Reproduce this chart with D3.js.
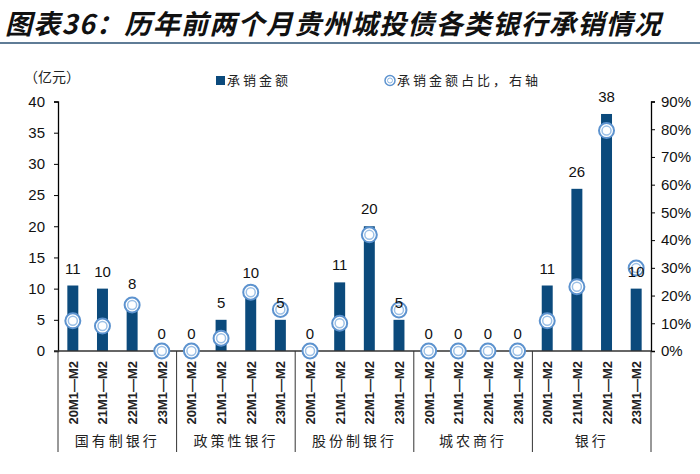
<!DOCTYPE html>
<html><head><meta charset="utf-8">
<script src="https://cdn.jsdelivr.net/npm/d3@7"></script>
<style>
body{margin:0;background:#fff;}
svg{display:block;}
</style></head>
<body>
<svg id="c" width="700" height="474"></svg>
<script>
const groups = ["国有制银行","政策性银行","股份制银行","城农商行","银行"];
const periods = ["20M1—M2","21M1—M2","22M1—M2","23M1—M2"];
const amounts = [10.5,10,8,0, 0,5,9.7,5, 0,11,20,5, 0,0,0,0, 10.5,26,38,10];
const shares = [10.9,9.0,16.6,0, 0,4.6,21.2,15.0, 0,10.0,41.9,14.8, 0,0,0,0, 10.9,23.2,79.5,29.9];
const leftTicks = [0,5,10,15,20,25,30,35,40];
const rightTicks = [0,10,20,30,40,50,60,70,80,90];

const svg = d3.select("#c");
const barColor = "#0b4a7c";
const ringColor = "#5d93cf";
const x0 = 58, x1 = 651, yTop = 101.5, yBot = 351;

const keys = [];
groups.forEach((g,gi)=>periods.forEach((p,pi)=>keys.push(gi+"|"+p)));
const data = keys.map((k,i)=>({key:k, period:periods[i%4], group:Math.floor(i/4), amt:amounts[i], pct:shares[i]}));

const x = d3.scaleBand().domain(keys).range([x0,x1]).paddingInner(0.63).paddingOuter(0.315);
const y = d3.scaleLinear().domain([0,40]).range([yBot,yTop]);
const y2 = d3.scaleLinear().domain([0,90]).range([yBot,yTop]);

// title
svg.append("text").attr("x",5).attr("y",34)
  .attr("font-family","'Noto Sans CJK SC'").attr("font-weight","bold").attr("font-style","italic")
  .attr("font-size",27).attr("letter-spacing",1.3).attr("fill","#111").text("图表36：历年前两个月贵州城投债各类银行承销情况");
svg.append("line").attr("x1",0).attr("x2",700).attr("y1",43).attr("y2",43)
  .attr("stroke","#5f7c96").attr("stroke-width",2);

// unit
svg.append("text").attr("x",24).attr("y",82).attr("font-family","'Noto Sans CJK SC'")
  .attr("font-size",14).attr("fill","#222").text("（亿元）");

// legend
svg.append("rect").attr("x",216).attr("y",76).attr("width",9).attr("height",9).attr("fill",barColor);
svg.append("text").attr("x",227).attr("y",85).attr("font-family","'Noto Sans CJK SC'")
  .attr("font-size",13).attr("fill","#222").attr("letter-spacing",3).text("承销金额");
svg.append("circle").attr("cx",390).attr("cy",80.5).attr("r",5).attr("fill","#fff").attr("stroke",ringColor).attr("stroke-width",1.5);
svg.append("circle").attr("cx",390).attr("cy",80.5).attr("r",2.5).attr("fill","#fff").attr("stroke","#8fb6e0").attr("stroke-width",1);
svg.append("text").attr("x",397).attr("y",85).attr("font-family","'Noto Sans CJK SC'")
  .attr("font-size",13).attr("fill","#222").attr("letter-spacing",3).text("承销金额占比，右轴");

// left axis
const la = svg.append("g").attr("transform",`translate(${x0},0)`)
  .call(d3.axisLeft(y).tickValues(leftTicks).tickSize(4).tickPadding(9).tickFormat(d3.format("d")));
la.select(".domain").attr("stroke","#000").attr("stroke-width",1.3);
la.selectAll(".tick line").attr("stroke","#000");
la.selectAll("text").attr("font-family","Arial, 'Liberation Sans'").attr("font-size",15).attr("fill","#111");

// right axis
const ra = svg.append("g").attr("transform",`translate(${x1},0)`)
  .call(d3.axisRight(y2).tickValues(rightTicks).tickSize(4).tickPadding(6).tickFormat(d=>d+"%"));
ra.select(".domain").attr("stroke","#000").attr("stroke-width",1.3);
ra.selectAll(".tick line").attr("stroke","#000");
ra.selectAll("text").attr("font-family","Arial, 'Liberation Sans'").attr("font-size",15).attr("fill","#111");

// bars
svg.append("g").selectAll("rect").data(data).join("rect")
  .attr("x",d=>x(d.key)).attr("width",x.bandwidth())
  .attr("y",d=>y(d.amt)).attr("height",d=>yBot-y(d.amt)).attr("fill",barColor);

// x axis line
svg.append("line").attr("x1",x0-4).attr("x2",x1).attr("y1",yBot).attr("y2",yBot)
  .attr("stroke","#333").attr("stroke-width",1.5);

// markers
const mk = svg.append("g").selectAll("g").data(data).join("g")
  .attr("transform",d=>`translate(${x(d.key)+x.bandwidth()/2},${y2(d.pct)})`);
mk.append("circle").attr("r",7.5).attr("fill","#fff").attr("stroke",ringColor).attr("stroke-width",2);
mk.append("circle").attr("r",4.5).attr("fill","#fff").attr("stroke","#9cc0e6").attr("stroke-width",1.5);

// bar labels (drawn over markers)
svg.append("g").selectAll("text").data(data).join("text")
  .attr("x",d=>x(d.key)+x.bandwidth()/2).attr("y",d=>y(d.amt)-12)
  .attr("text-anchor","middle").attr("font-family","Arial, 'Liberation Sans'")
  .attr("font-size",15).attr("fill","#111").text(d=>Math.round(d.amt));

// period tick labels
svg.append("g").selectAll("text").data(data).join("text")
  .attr("transform",d=>`translate(${x(d.key)+x.bandwidth()/2+5},361) rotate(-90)`)
  .attr("text-anchor","end").attr("font-family","Arial, 'Liberation Sans'").attr("font-weight","bold")
  .attr("font-size",13).attr("fill","#222").text(d=>d.period);

// group separators and labels
const bounds = d3.range(groups.length+1).map(i=>x0 + (x1-x0)*i/groups.length);
svg.append("g").selectAll("line").data(bounds).join("line")
  .attr("x1",d=>d).attr("x2",d=>d).attr("y1",yBot).attr("y2",452)
  .attr("stroke","#333").attr("stroke-width",1);
svg.append("g").selectAll("text").data(groups).join("text")
  .attr("x",(d,i)=>(bounds[i]+bounds[i+1])/2).attr("y",446)
  .attr("text-anchor","middle").attr("font-family","'Noto Sans CJK SC'")
  .attr("font-size",14).attr("letter-spacing",3).attr("fill","#222").text(d=>d);
</script>
</body></html>
